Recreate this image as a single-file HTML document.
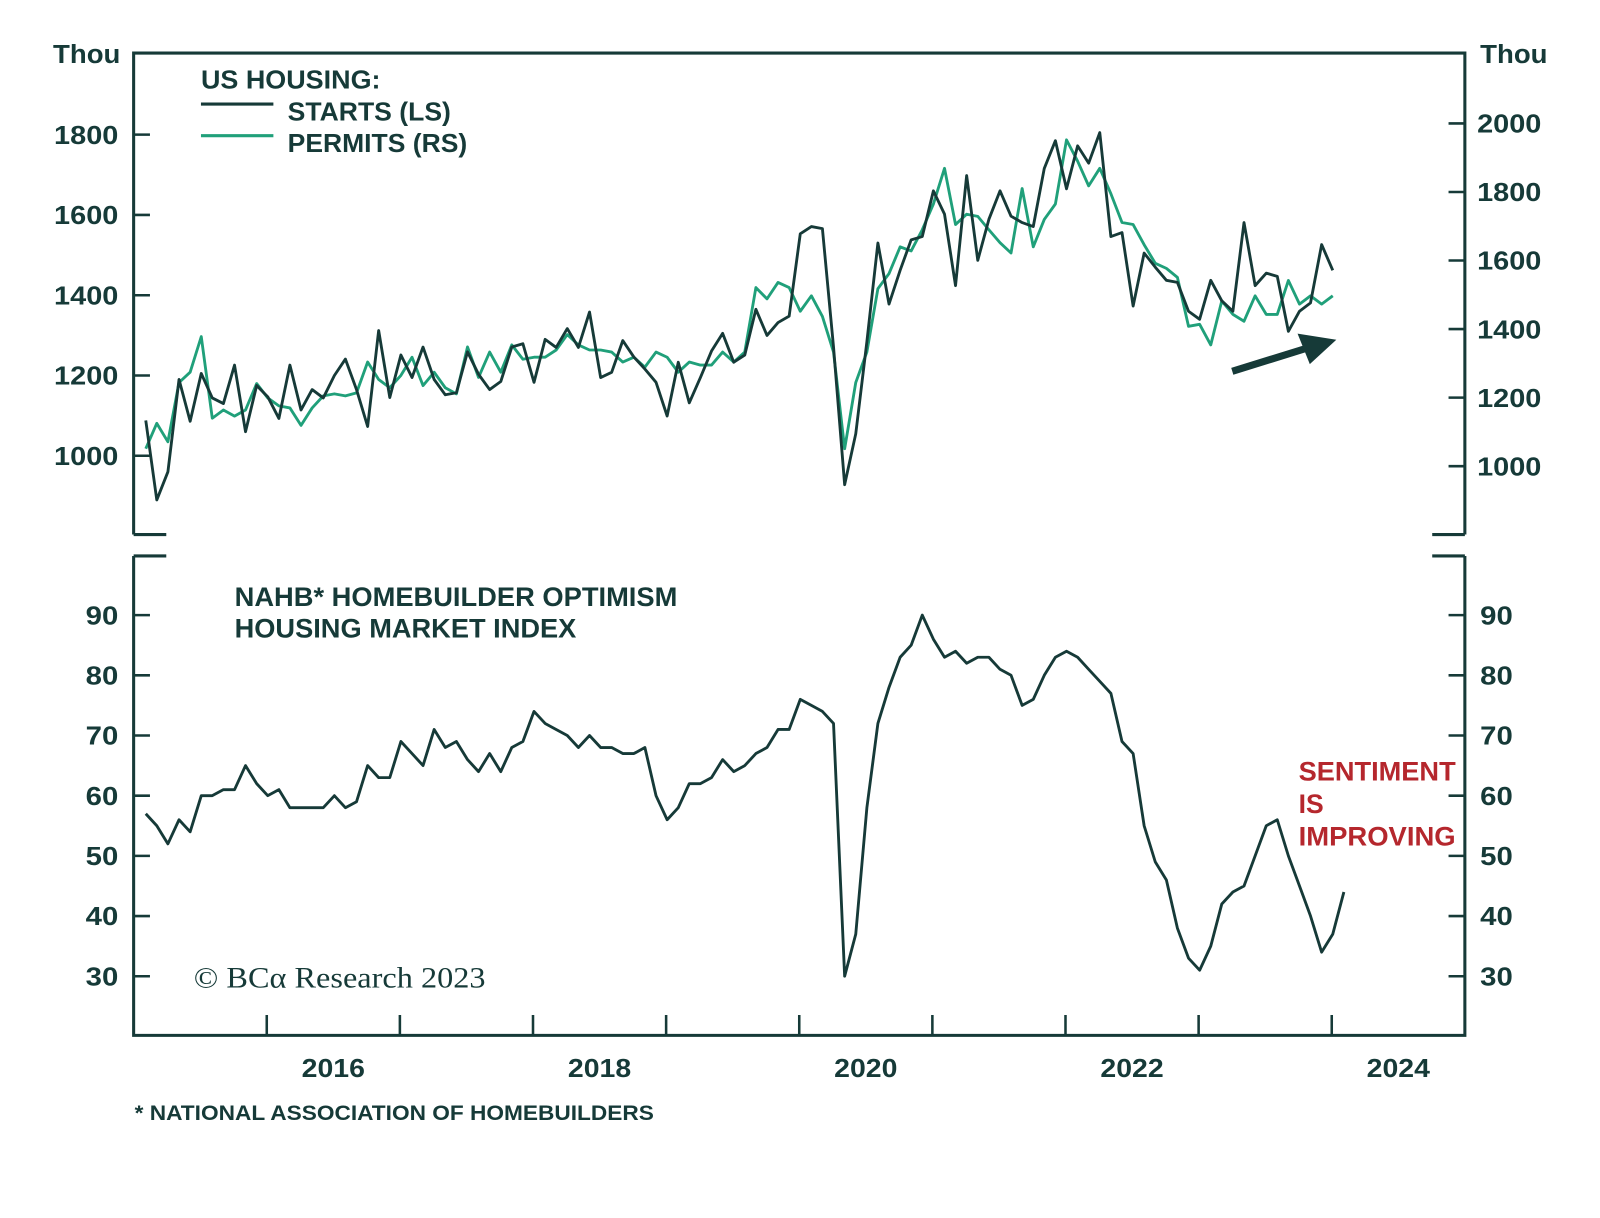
<!DOCTYPE html>
<html><head><meta charset="utf-8"><style>
html,body{margin:0;padding:0;background:#fff;}
svg{display:block;}
text{font-family:"Liberation Sans",sans-serif;font-weight:bold;fill:#163a38;}
</style></head>
<body>
<svg id="chart" width="1600" height="1218" viewBox="0 0 1568 1194" preserveAspectRatio="xMinYMin meet" xmlns="http://www.w3.org/2000/svg">
<g id="frame" stroke="#163a38" stroke-width="3" fill="none">
  <path d="M131,524 L131,52 L1436,52 L1436,524"/>
  <path d="M131,524 L163,524 M1404,524 L1436,524"/>
  <path d="M131,545 L163,545 M1404,545 L1436,545"/>
  <path d="M131,545 L131,1015 L1436,1015 L1436,545"/>
</g>
<g id="ticks" stroke="#163a38" stroke-width="2.5"></g>
<g id="labels"></g>
<g id="series"></g>
<g>
  <text x="197" y="87" font-size="25" textLength="176" lengthAdjust="spacingAndGlyphs">US HOUSING:</text>
  <line x1="197" y1="102" x2="268" y2="102" stroke="#163a38" stroke-width="3"/>
  <text x="282" y="118" font-size="25" textLength="160" lengthAdjust="spacingAndGlyphs">STARTS (LS)</text>
  <line x1="197" y1="133" x2="268" y2="133" stroke="#20a07a" stroke-width="3"/>
  <text x="282" y="149" font-size="25" textLength="176" lengthAdjust="spacingAndGlyphs">PERMITS (RS)</text>
</g>
<text x="52" y="62" font-size="25" textLength="66" lengthAdjust="spacingAndGlyphs">Thou</text>
<text x="1451" y="62" font-size="25" textLength="66" lengthAdjust="spacingAndGlyphs">Thou</text>
<text x="230" y="594" font-size="26" textLength="434" lengthAdjust="spacingAndGlyphs">NAHB* HOMEBUILDER OPTIMISM</text>
<text x="230" y="625" font-size="26" textLength="335" lengthAdjust="spacingAndGlyphs">HOUSING MARKET INDEX</text>
<text x="190" y="968" font-size="29" textLength="286" lengthAdjust="spacingAndGlyphs" style="font-family:'Liberation Serif',serif;font-weight:normal">© BCα Research 2023</text>
<g>
  <text x="1273" y="765" font-size="26" textLength="154" lengthAdjust="spacingAndGlyphs" style="fill:#b5272d">SENTIMENT</text>
  <text x="1273" y="797" font-size="26" style="fill:#b5272d">IS</text>
  <text x="1273" y="829" font-size="26" textLength="154" lengthAdjust="spacingAndGlyphs" style="fill:#b5272d">IMPROVING</text>
</g>
<text x="132" y="1098" font-size="21" textLength="509" lengthAdjust="spacingAndGlyphs">* NATIONAL ASSOCIATION OF HOMEBUILDERS</text>
<g>
  <line x1="1208" y1="364" x2="1282" y2="341" stroke="#163a38" stroke-width="7"/>
  <polygon points="1310,333 1272,327 1284,357" fill="#163a38"/>
</g>
</svg>
<script>
const startsValues=[1088,890,960,1190,1086,1205,1144,1130,1226,1060,1175,1147,1093,1226,1114,1165,1144,1200,1241,1165,1073,1312,1145,1251,1195,1271,1190,1152,1157,1259,1203,1165,1185,1271,1279,1183,1290,1270,1317,1270,1358,1195,1208,1287,1246,1216,1183,1099,1233,1132,1195,1261,1305,1233,1251,1365,1300,1332,1348,1553,1571,1566,1271,928,1055,1284,1530,1378,1462,1538,1546,1660,1602,1424,1698,1487,1589,1660,1597,1581,1571,1716,1785,1665,1772,1729,1805,1546,1556,1373,1505,1470,1437,1432,1360,1340,1437,1386,1360,1581,1424,1455,1447,1310,1360,1381,1526,1462];
const permitsValues=[1051,1125,1071,1244,1274,1378,1140,1164,1146,1164,1241,1199,1176,1170,1119,1170,1205,1211,1205,1214,1304,1253,1229,1265,1318,1235,1274,1229,1211,1348,1259,1333,1274,1354,1312,1318,1318,1339,1384,1354,1339,1339,1333,1304,1318,1289,1333,1318,1274,1304,1295,1295,1333,1304,1333,1521,1488,1536,1521,1452,1497,1437,1333,1051,1244,1333,1518,1562,1640,1628,1690,1765,1869,1705,1735,1729,1690,1652,1622,1810,1640,1720,1765,1952,1890,1818,1869,1795,1711,1705,1646,1592,1577,1551,1408,1414,1354,1482,1443,1423,1497,1443,1443,1542,1473,1497,1473,1497];
const nahbValues=[57,55,52,56,54,60,60,61,61,65,62,60,61,58,58,58,58,60,58,59,65,63,63,69,67,65,71,68,69,66,64,67,64,68,69,74,72,71,70,68,70,68,68,67,67,68,60,56,58,62,62,63,66,64,65,67,68,71,71,76,75,74,72,30,37,58,72,78,83,85,90,86,83,84,82,83,83,81,80,75,76,80,83,84,83,81,79,77,69,67,55,49,46,38,33,31,35,42,44,45,50,55,56,50,45,40,34,37,44];
const leftTicks=[1000,1200,1400,1600,1800];
const rightTicks=[1000,1200,1400,1600,1800,2000];
const nahbTicks=[30,40,50,60,70,80,90];
const yearLabels=[2016,2018,2020,2022,2024];
const yearTicks=[2015.5,2016.5,2017.5,2018.5,2019.5,2020.5,2021.5,2022.5,2023.5];
const startMonth=2014+7/12;

const NS='http://www.w3.org/2000/svg';
function xT(t){return 131+(t-2014.5)*130.5;}
function xI(i){return xT(startMonth+i/12)+1;}
function yL(v){return 132+(1800-v)*78.7/200;}
function yR(v){return 121+(2000-v)*0.336;}
function yN(v){return 603+(90-v)*5.9;}
function mk(tag,attrs,parent){const e=document.createElementNS(NS,tag);for(const k in attrs)e.setAttribute(k,attrs[k]);parent.appendChild(e);return e;}
const ticks=document.getElementById('ticks'),labels=document.getElementById('labels'),series=document.getElementById('series');
const LA={'font-size':25,lengthAdjust:'spacingAndGlyphs'};
function lbl(x,y,txt,anchor,w){const t=mk('text',{x:x,y:y,'font-size':25,'text-anchor':anchor||'start',textLength:w,lengthAdjust:'spacingAndGlyphs'},labels);t.textContent=txt;return t;}

leftTicks.forEach(v=>{
  const l=mk('line',{x1:131,x2:147,y1:yL(v),y2:yL(v)},ticks);
  
  
  const t=lbl(53,yL(v)+9,String(v),'start',63);
  
  
});
rightTicks.forEach(v=>{
  const l=mk('line',{x1:1420,x2:1436,y1:yR(v),y2:yR(v)},ticks);
  
  
  const t=lbl(1448,yR(v)+9,String(v),'start',63);
  
  
});
nahbTicks.forEach(v=>{
  const l=mk('line',{x1:131,x2:147,y1:yN(v),y2:yN(v)},ticks);
  
  
  const r=mk('line',{x1:1420,x2:1436,y1:yN(v),y2:yN(v)},ticks);
  
  
  const t=lbl(84,yN(v)+9,String(v),'start',32);
  
  
  const t2=lbl(1451,yN(v)+9,String(v),'start',32);
  
  
});
yearTicks.forEach(t=>{
  const l=mk('line',{x1:xT(t),x2:xT(t),y1:995,y2:1015},ticks);
  
  
});
yearLabels.forEach(y=>{
  const t=lbl(xT(y),1056,String(y),'middle',62);
  
  
});
function line(vals,yf,color,name){
  const d=vals.map((v,i)=>(i?'L':'M')+xI(i).toFixed(1)+','+yf(v).toFixed(1)).join(' ');
  const p=mk('path',{d:d,fill:'none',stroke:color,'stroke-width':2.8,'stroke-linejoin':'round'},series);
  
  
}
line(permitsValues,yR,'#20a07a','permits-line');
line(startsValues,yL,'#163a38','starts-line');
line(nahbValues,yN,'#163a38','nahb-line');
</script>
</body></html>
